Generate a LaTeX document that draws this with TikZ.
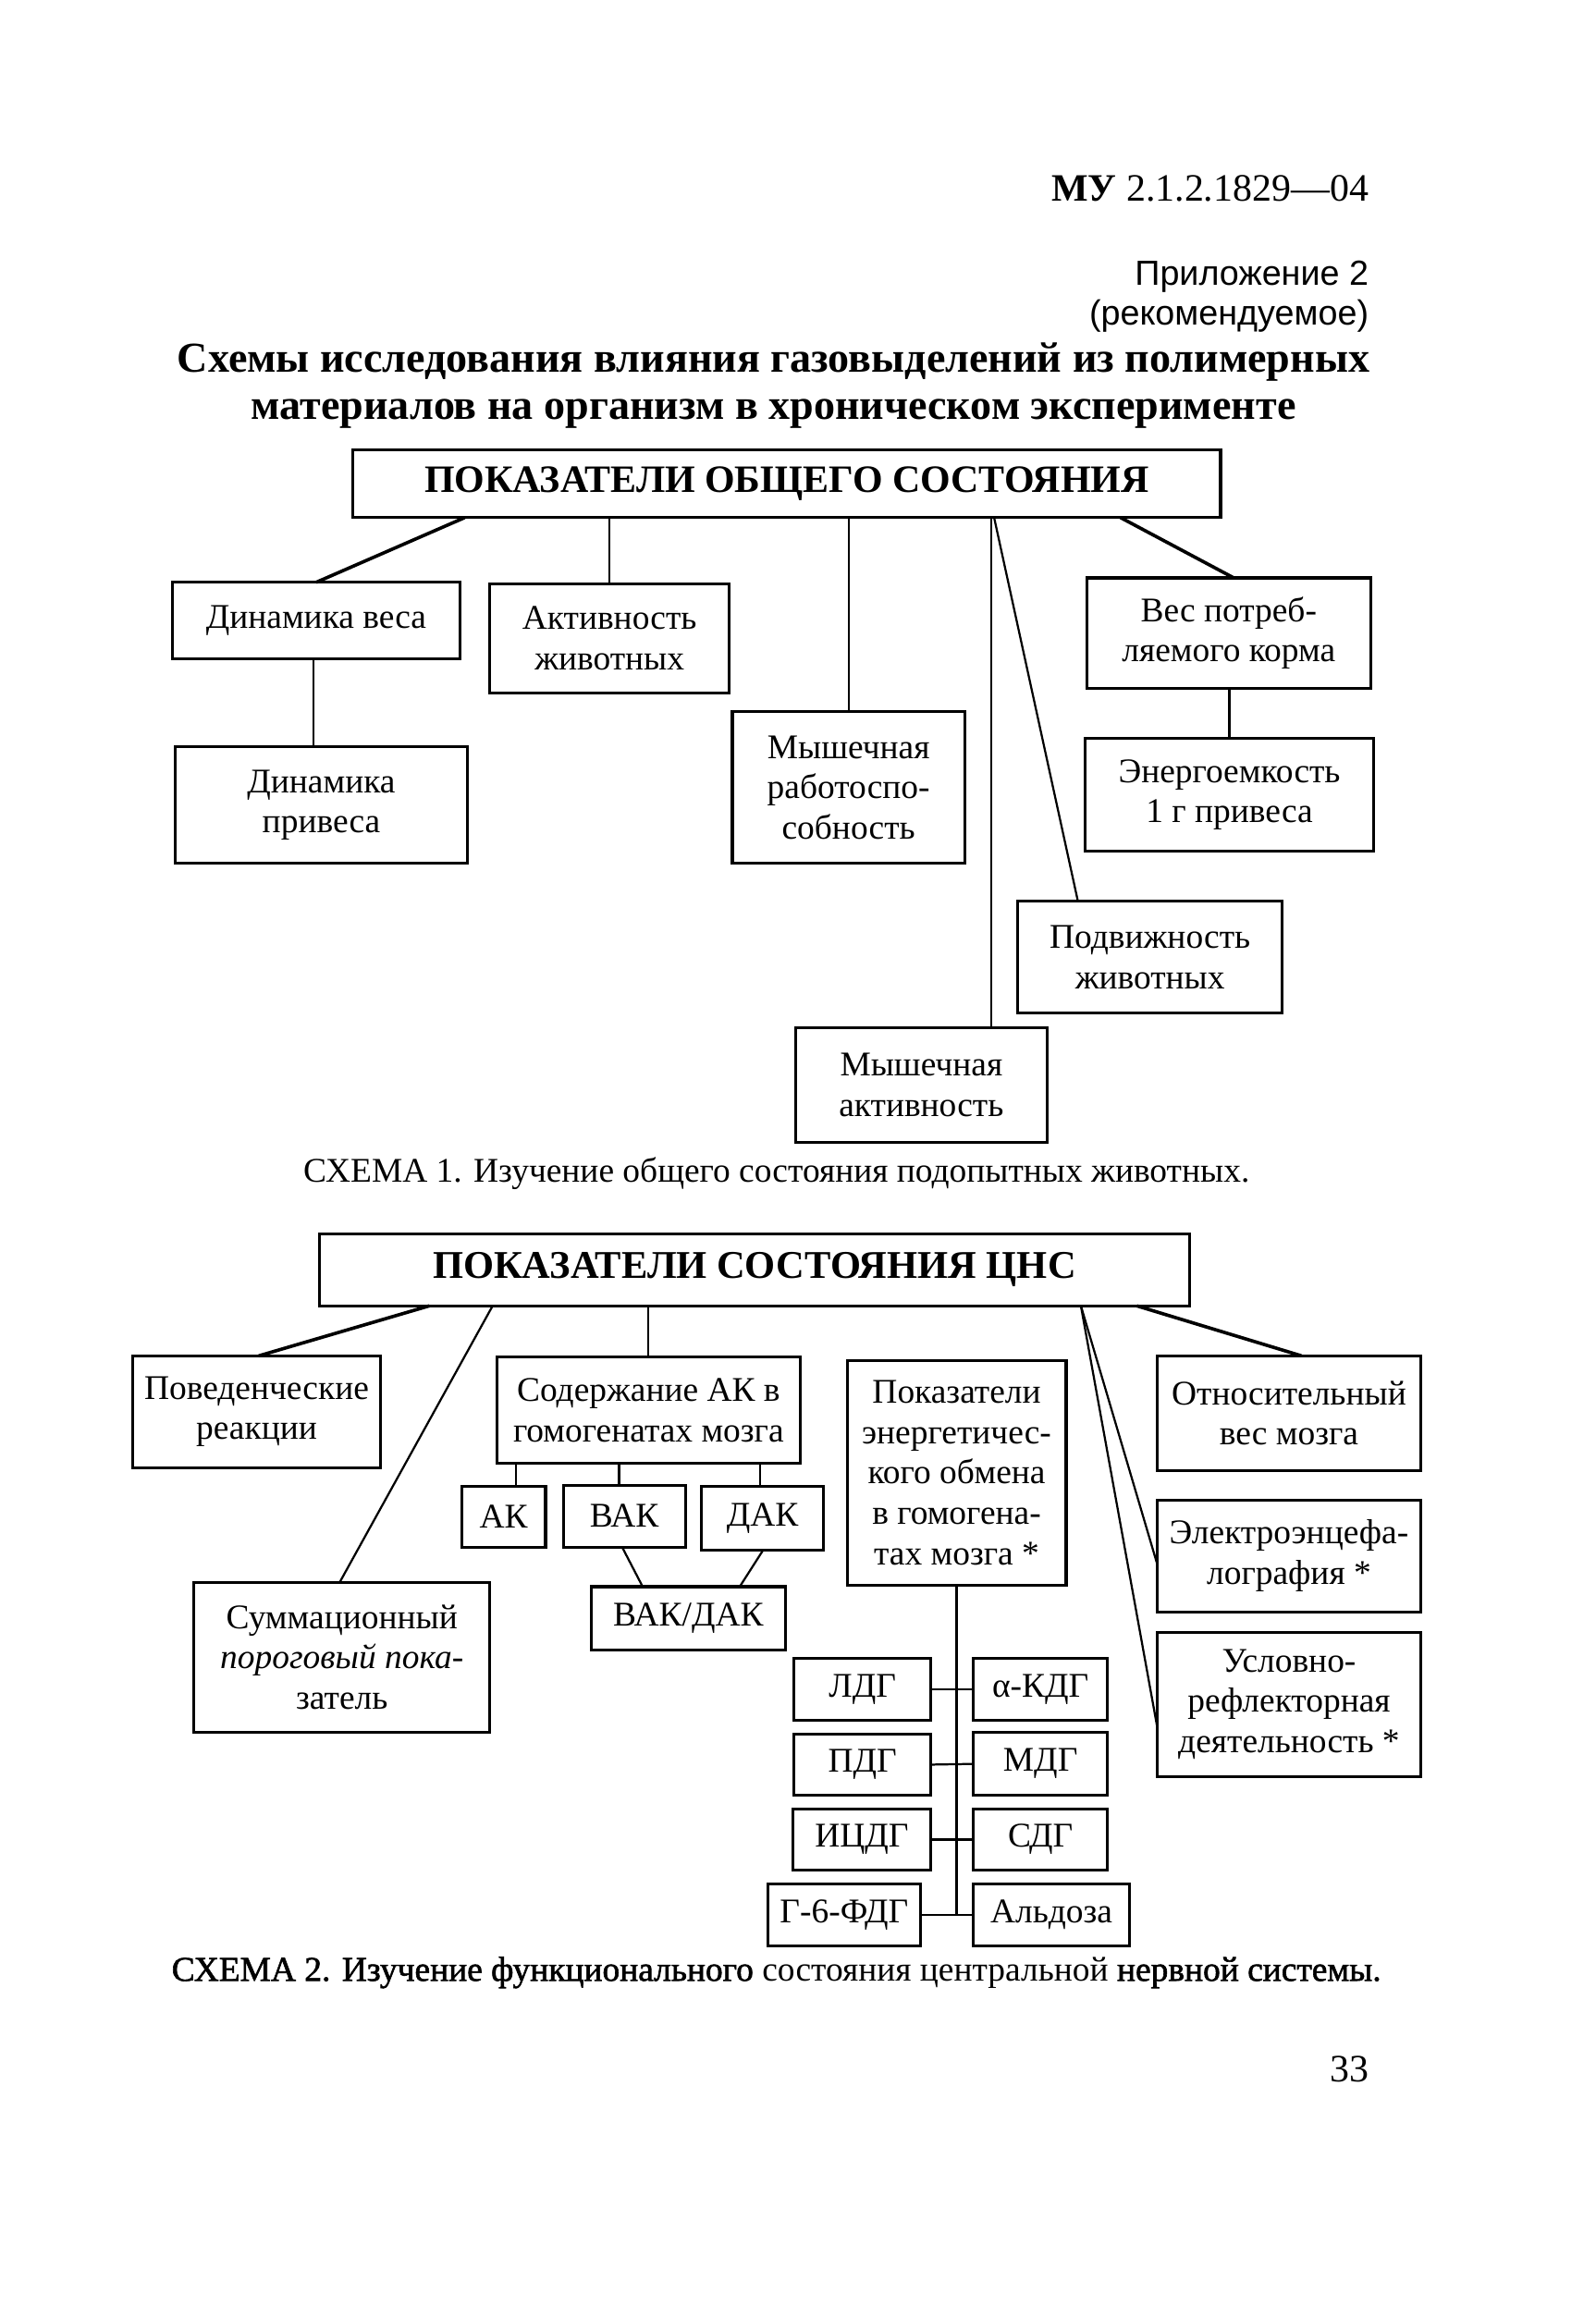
\documentclass[tikz,border=0pt]{standalone}
\usepackage{fontspec}
\setmainfont{Liberation Serif}
\newfontfamily\sansf{Liberation Sans}
\newfontfamily\fakeb[FakeBold=1.6]{Liberation Serif}
\usetikzlibrary{calc}
\newcommand\boxfont{\fontsize{13.4}{15.6}\selectfont}
\tikzset{
  box/.style={draw, line width=1.1pt, inner sep=0pt, outer sep=0pt, align=center, font=\boxfont},
  conn/.style={line width=0.8pt},
  tconn/.style={line width=1.3pt},
}
\newcommand\bx[6]{\node[box, minimum width={(#4-#2)*0.02cm}, minimum height={(#5-#3)*0.02cm}] (#1) at ({(#2+#4)/2},{(#3+#5)/2}) {#6};}
\begin{document}
\begin{tikzpicture}[x=0.02cm,y=-0.02cm]
\useasboundingbox[fill=white] (0,0) rectangle (1085,1577);
% header
\node[anchor=base east, inner sep=0pt, font=\fontsize{15}{18}\selectfont] (hdr) at (931,137) {\textbf{МУ} 2.1.2.1829—04};
\node[anchor=base east, inner sep=0pt, font=\sansf\fontsize{13.5}{16}\selectfont] (pril) at (931,194) {Приложение 2};
\node[anchor=base east, inner sep=0pt, font=\sansf\fontsize{13.5}{16}\selectfont] (rek) at (931,221) {(рекомендуемое)};
\node[anchor=base, inner sep=0pt, font=\bfseries\fontsize{16.5}{19}\selectfont] (t1) at (526,253) {Схемы исследования влияния газовыделений из полимерных};
\node[anchor=base, inner sep=0pt, font=\bfseries\fontsize{16.5}{19}\selectfont] (t2) at (526,285) {материалов на организм в хроническом эксперименте};
% scheme 1
\bx{T1}{240}{306}{830}{352}{\fontsize{15}{18}\selectfont\bfseries ПОКАЗАТЕЛИ ОБЩЕГО СОСТОЯНИЯ}
\bx{dv}{117}{396}{313}{448}{Динамика веса}
\bx{ak}{333}{397}{496}{471}{Активность\\животных}
\bx{vp}{739}{393}{932}{468}{Вес потреб-\\ляемого корма}
\bx{dp}{119}{508}{318}{587}{Динамика\\привеса}
\bx{mr}{498}{484}{656}{587}{Мышечная\\работоспо-\\собность}
\bx{en}{738}{502}{934}{579}{Энергоемкость\\1 г привеса}
\bx{pd}{692}{613}{872}{689}{Подвижность\\животных}
\bx{ma}{541}{699}{712}{777}{Мышечная\\активность}
\draw[tconn] ($(T1.south west)+(76,0)$) -- ($(dv.north west)+(98,0)$);
\draw[conn] (ak.north |- T1.south) -- (ak.north);
\draw[conn] (mr.north |- T1.south) -- (mr.north);
\draw[conn] ($(T1.south west)+(434,0)$) -- ($(ma.north west)+(133,0)$);
\draw[conn] ($(T1.south west)+(436,0)$) -- ($(pd.north west)+(41,0)$);
\draw[tconn] ($(T1.south west)+(522,0)$) -- ($(vp.north west)+(100,0)$);
\draw[conn] ($(dv.south west)+(96,0)$) -- ($(dp.north west)+(94,0)$);
\draw[conn] ($(vp.south west)+(97,0)$) -- ($(en.north west)+(98,0)$);
\node[anchor=base, inner sep=0pt, font=\boxfont] (cap1) at (528,804) {СХЕМА 1. Изучение общего состояния подопытных животных.};
% scheme 2
\bx{T2}{217}{839}{809}{888}{\fontsize{15.2}{18}\selectfont\bfseries ПОКАЗАТЕЛИ СОСТОЯНИЯ ЦНС}
\bx{pv}{90}{922}{259}{998}{Поведенческие\\реакции}
\bx{sod}{338}{923}{544}{995}{Содержание АК в\\гомогенатах мозга}
\bx{pok}{576}{925}{725}{1078}{Показатели\\энергетичес-\\кого обмена\\в гомогена-\\тах мозга *}
\bx{otn}{787}{922}{966}{1000}{Относительный\\вес мозга}
\bx{el}{787}{1020}{966}{1096}{Электроэнцефа-\\лография *}
\bx{us}{787}{1110}{966}{1208}{Условно-\\рефлекторная\\деятельность *}
\bx{AK}{314}{1011}{371}{1052}{АК}
\bx{VAK}{383}{1010}{466}{1052}{ВАК}
\bx{DAK}{477}{1011}{560}{1054}{ДАК}
\bx{VD}{402}{1079}{534}{1122}{ВАК/ДАК}
\bx{sum}{132}{1076}{333}{1178}{Суммационный\\\textit{пороговый пока-}\\затель}
\bx{LDG}{540}{1128}{633}{1170}{ЛДГ}
\bx{aKDG}{662}{1128}{753}{1170}{α-КДГ}
\bx{PDG}{540}{1179}{633}{1221}{ПДГ}
\bx{MDG}{662}{1178}{753}{1221}{МДГ}
\bx{ICDG}{539}{1230}{633}{1272}{ИЦДГ}
\bx{SDG}{662}{1230}{753}{1272}{СДГ}
\bx{G6}{522}{1281}{626}{1323}{Г-6-ФДГ}
\bx{Ald}{662}{1281}{768}{1323}{Альдоза}
\draw[tconn] ($(T2.south west)+(75,0)$) -- ($(pv.north west)+(86,0)$);
\draw[conn] ($(T2.south west)+(118,0)$) -- ($(sum.north west)+(99,0)$);
\draw[conn] (sod.north |- T2.south) -- (sod.north);
\draw[tconn] ($(T2.south west)+(556,0)$) -- ($(otn.north west)+(98,0)$);
\draw[conn] ($(T2.south west)+(518,0)$) -- ($(el.north west)+(0,44)$);
\draw[conn] ($(T2.south west)+(518,0)$) -- ($(us.north west)+(0,65)$);
\draw[conn] ($(sod.south west)+(13,0)$) -- ($(AK.north west)+(37,0)$);
\draw[conn] ($(sod.south west)+(83,0)$) -- ($(VAK.north west)+(38,0)$);
\draw[conn] ($(sod.south west)+(179,0)$) -- ($(DAK.north west)+(40,0)$);
\draw[conn] ($(VAK.south west)+(40,0)$) -- ($(VD.north west)+(35,0)$);
\draw[conn] ($(DAK.south west)+(42,0)$) -- ($(VD.north west)+(101,0)$);
\draw[conn] (pok.south) -- (pok.south |- G6.east);
\draw[conn] (LDG.east) -- (aKDG.west);
\draw[conn] (PDG.east) -- (MDG.west);
\draw[conn] (ICDG.east) -- (SDG.west);
\draw[conn] (G6.east) -- (Ald.west);
\node[anchor=base, inner sep=0pt, font=\boxfont] (cap2) at (528,1347) {{\fakeb СХЕМА 2. Изучение функционального} состояния центральной {\fakeb нервной системы.}};
\node[anchor=base east, inner sep=0pt, font=\fontsize{15}{18}\selectfont] (pg) at (931,1416) {33};
\end{tikzpicture}
\end{document}
